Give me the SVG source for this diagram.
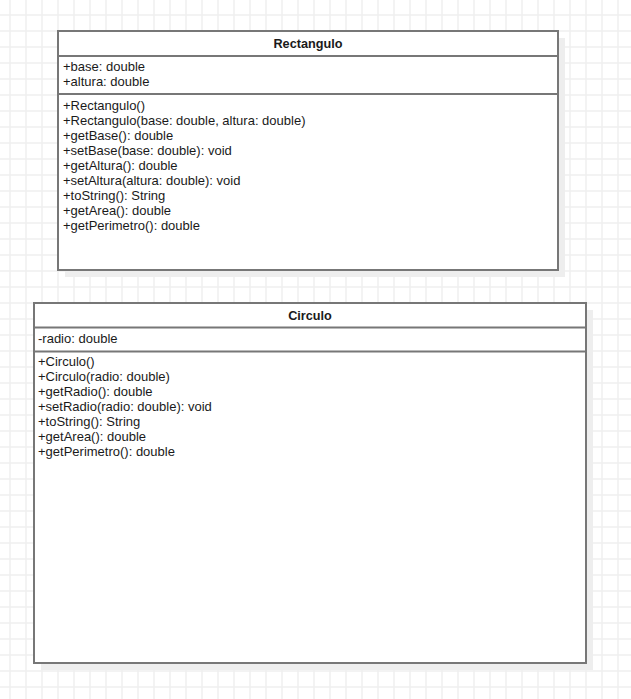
<svg xmlns="http://www.w3.org/2000/svg" width="631" height="699" viewBox="0 0 631 699">
  <style>
    .box { fill: #ffffff; stroke: #777777; stroke-width: 2; }
    .shadow { fill: #eeeeee; }
    .div { stroke: #777777; stroke-width: 2; }
    .t { font-family: "Liberation Sans", Arial, Helvetica, sans-serif; font-size: 13px; fill: #1a1a1a; }
    .title { font-weight: bold; font-size: 12.7px; text-anchor: middle; }
  </style>
  <defs>
    <pattern id="grid" patternUnits="userSpaceOnUse" x="2" y="7" width="16" height="16">
      <path d="M8 0 V16 M0 8 H16" stroke="#efefef" stroke-width="1.5" fill="none"/>
    </pattern>
  </defs>
  <rect x="0" y="0" width="631" height="699" fill="#ffffff"/>
  <rect x="0" y="0" width="631" height="699" fill="url(#grid)"/>

  <g id="connectors"></g>

  <g id="Rectangulo">
    <rect class="shadow" x="65" y="38" width="500" height="239"/>
    <rect class="box" x="58" y="31" width="500" height="239"/>
    <line class="div" x1="58" y1="56" x2="558" y2="56"/>
    <line class="div" x1="58" y1="94" x2="558" y2="94"/>
    <text class="t title" x="308" y="48">Rectangulo</text>
    <text class="t" x="63" y="70.5">+base: double</text>
    <text class="t" x="63" y="85.5">+altura: double</text>
    <text class="t" x="63" y="109.5">+Rectangulo()</text>
    <text class="t" x="63" y="124.5">+Rectangulo(base: double, altura: double)</text>
    <text class="t" x="63" y="139.5">+getBase(): double</text>
    <text class="t" x="63" y="154.5">+setBase(base: double): void</text>
    <text class="t" x="63" y="169.5">+getAltura(): double</text>
    <text class="t" x="63" y="184.5">+setAltura(altura: double): void</text>
    <text class="t" x="63" y="199.5">+toString(): String</text>
    <text class="t" x="63" y="214.5">+getArea(): double</text>
    <text class="t" x="63" y="229.5">+getPerimetro(): double</text>
  </g>

  <g id="Circulo">
    <rect class="shadow" x="41" y="310" width="552" height="360"/>
    <rect class="box" x="34" y="303" width="552" height="360"/>
    <line class="div" x1="34" y1="327.5" x2="586" y2="327.5"/>
    <line class="div" x1="34" y1="351.5" x2="586" y2="351.5"/>
    <text class="t title" x="310" y="320">Circulo</text>
    <text class="t" x="38" y="342.5">-radio: double</text>
    <text class="t" x="38" y="365.5">+Circulo()</text>
    <text class="t" x="38" y="380.5">+Circulo(radio: double)</text>
    <text class="t" x="38" y="395.5">+getRadio(): double</text>
    <text class="t" x="38" y="410.5">+setRadio(radio: double): void</text>
    <text class="t" x="38" y="425.5">+toString(): String</text>
    <text class="t" x="38" y="440.5">+getArea(): double</text>
    <text class="t" x="38" y="455.5">+getPerimetro(): double</text>
  </g>
</svg>
